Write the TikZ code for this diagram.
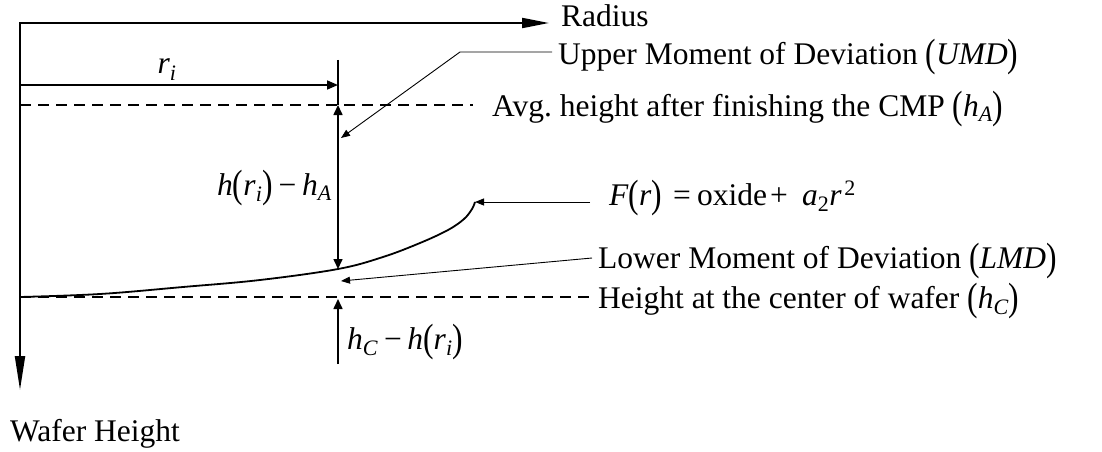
\documentclass[tikz,border=0pt]{standalone}
\usepackage{graphicx}
\usepackage{fontspec}
\setmainfont{Liberation Serif}
\usetikzlibrary{arrows.meta}
\frenchspacing
\newcommand{\vi}[1]{\textit{#1}}
\newcommand{\sbi}[1]{\textsubscript{\textit{#1}}}
\newcommand{\lp}{\raisebox{-0.09em}{\scalebox{1}[1.25]{(}}}
\newcommand{\rp}{\raisebox{-0.09em}{\scalebox{1}[1.25]{)}}}
\newcommand{\mopr}[1]{\hspace{0.18em}#1\hspace{0.18em}}
\begin{document}
\begin{tikzpicture}[x=1pt,y=-1pt,
  lbl/.style={font=\fontsize{31.5}{36}\selectfont, inner sep=0pt, anchor=base west},
  axis/.style={line width=2pt, line join=miter},
  dim/.style={line width=1.6pt},
  tipS/.style={-{Triangle[length=11pt,width=9pt]}},
  leader/.style={line width=0.9pt, -{Triangle[length=9pt,width=7pt]}},
  dashline/.style={line width=1.6pt, dash pattern=on 11pt off 7pt},
  curve/.style={line width=1.8pt}]
\useasboundingbox (0,0) rectangle (1102,452);

% axes
\coordinate (O) at (20,23);
\coordinate (xend) at (549,23);
\coordinate (yend) at (20,390);
\draw[axis, {Triangle[length=34pt,width=10pt]}-{Triangle[length=27pt,width=10pt]}] (yend) -- (O) -- (xend);
\node[lbl] (radius) at (561,27) {Radius};
\node[lbl] (wafer) at (10,441) {Wafer Height};

% r_i dimension
\coordinate (rstart) at (20,85);
\coordinate (rtick) at (338,60);
\coordinate (rpt) at (338,85);
\draw[dim, tipS] (rstart) -- (rpt);
\node[lbl, anchor=base] (ri) at (167,74) {\vi{r}\sbi{i}};

% average height line
\coordinate (hAleft) at (20,105);
\coordinate (hAright) at (473,105);
\coordinate (hApt) at (338,105);
\draw[dashline] (hAleft) -- (hAright);
\node[lbl] (avg) at (492,116) {Avg. height after finishing the CMP \lp\vi{h}\sbi{A}\rp};

% center height line
\coordinate (hCleft) at (20,297);
\coordinate (hCright) at (590,297);
\coordinate (hCpt) at (338,299);
\draw[dashline] (hCleft) -- (hCright);
\node[lbl] (hc) at (598,308) {Height at the center of wafer \lp\vi{h}\sbi{C}\rp};

% profile curve
\coordinate (cend) at (475,202);
\coordinate (cpt) at (338,269);
\draw[curve] plot[smooth, tension=0.6] coordinates {(20,297) (100,294) (183,287) (260,280) (338,269) (383,257) (420,243) (448,230) (464,219) (472,209) (cend)};

% vertical dimensions
\draw[dim] (rtick) -- (hApt);
\draw[dim, {Triangle[length=10pt,width=9pt]}-{Triangle[length=10pt,width=9pt]}] (hApt) -- (cpt);
\node[lbl, anchor=base east] (dA) at (332,195) {\vi{h}\lp\vi{r}\sbi{i}\rp\mopr{−}\vi{h}\sbi{A}};
\coordinate (hCbot) at (338,364);
\draw[dim, -{Triangle[length=10pt,width=9pt]}] (hCbot) -- (hCpt);
\node[lbl] (dC) at (347,349) {\vi{h}\sbi{C}\mopr{−}\vi{h}\lp\vi{r}\sbi{i}\rp};

% leaders
\node[lbl] (umd) at (558,64) {Upper Moment of Deviation \lp\vi{UMD}\rp};
\coordinate (umdtip) at (341,138);
\draw[leader] (552,52) -- (460,52) -- (umdtip);

\node[lbl] (fr) at (609,205) {\vi{F}\lp\vi{r}\rp\hspace{0.35em}=\hspace{0.2em}oxide\hspace{0.1em}+\hspace{0.45em}\vi{a}\textsubscript{2}\vi{r}\hspace{0.08em}\textsuperscript{2}};
\draw[leader] (590,202) -- (cend);

\node[lbl] (lmd) at (598,268) {Lower Moment of Deviation \lp\vi{LMD}\rp};
\coordinate (lmdtip) at (341,281);
\draw[leader] (592,258) -- (lmdtip);
\end{tikzpicture}
\end{document}
